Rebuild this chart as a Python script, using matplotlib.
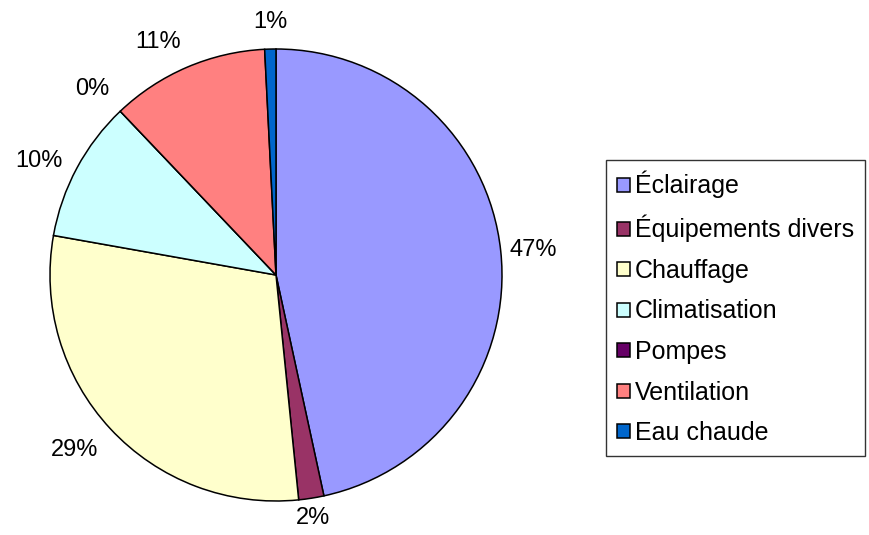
import numpy as np
import matplotlib.pyplot as plt

plt.rcParams['font.family'] = ['Liberation Sans', 'DejaVu Sans']

categories = ['Éclairage', 'Équipements divers', 'Chauffage', 'Climatisation',
              'Pompes', 'Ventilation', 'Eau chaude']
values = [46.6, 1.8, 29.4, 10.1, 0.0, 11.3, 0.8]
colors = ['#9999FF', '#993366', '#FFFFCC', '#CCFFFF', '#660066', '#FF8080', '#0066CC']

fig = plt.figure(figsize=(8.7, 5.35), dpi=100)
ax = fig.add_axes([50/870, 34/535, 452/870, 452/535])

wedges, _ = ax.pie(values, colors=colors, startangle=90, counterclock=False,
                   wedgeprops=dict(edgecolor='black', linewidth=1.1))
ax.set_xlim(-1, 1)
ax.set_ylim(-1, 1)
ax.set_aspect('equal')

# labels outside, placed like Excel does (text box touching the anchor)
total = sum(values)
for w, v in zip(wedges, values):
    theta = np.deg2rad((w.theta1 + w.theta2) / 2)
    c, s = np.cos(theta), np.sin(theta)
    r = 1.07 if c < 0 else 1.04
    ha = 'center' if abs(c) < 0.3 else ('left' if c > 0 else 'right')
    va = 'center' if abs(s) < 0.55 else ('bottom' if s > 0 else 'top')
    ax.text(r * c, r * s, '%.0f%%' % (100 * v / total), ha=ha, va=va,
            fontsize=17, clip_on=False)

leg = fig.legend(wedges, categories, loc='center left',
                 bbox_to_anchor=(606/870, (535-308)/535),
                 fontsize=18, frameon=True, fancybox=False, shadow=False,
                 handlelength=0.5, handleheight=0.5, handletextpad=0.2,
                 labelspacing=0.66, borderpad=0.45, borderaxespad=0)
leg.get_frame().set_edgecolor('black')
leg.get_frame().set_linewidth(1.0)

fig.savefig('out.png', dpi=100)
